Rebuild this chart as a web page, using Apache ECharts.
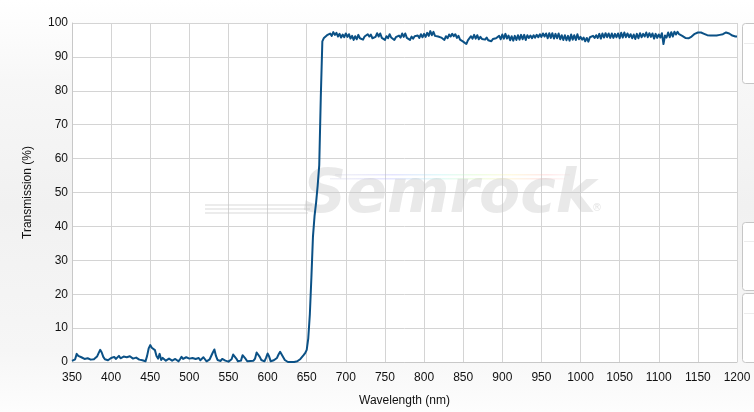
<!DOCTYPE html>
<html><head><meta charset="utf-8">
<script src="https://cdn.jsdelivr.net/npm/echarts@6/dist/echarts.min.js"></script>
<style>html,body{margin:0;padding:0;background:#fff;}#c{width:754px;height:412px;}</style>
</head><body><div id="c"></div>
<script>
// Wavelength sampling grid (nm)
const wavelengthStart = 350;
const wavelengthStep = 2;
// Transmission (%), one value per 2 nm from 350 to 1200 nm
const transmission = [
  // 350 - 648 (blocking band)
  0.3, 0.2, 0.8, 2.4, 1.8,
  2.1, 1.4, 1.3, 0.9, 0.8,
  1.1, 1.0, 0.7, 0.9, 0.8,
  1.3, 1.6, 2.6, 3.6, 2.8,
  1.5, 0.8, 0.6, 0.5, 0.9,
  1.2, 0.9, 1.5, 0.9, 1.3,
  1.8, 1.1, 1.0, 1.6, 2.0,
  1.4, 1.2, 1.7, 1.5, 1.0,
  0.8, 1.3, 1.2, 0.7, 0.6,
  0.5, 0.3, 0.2, 1.8, 4.0,
  5.0, 4.2, 4.5, 3.5, 1.8,
  1.0, 2.4, 0.6, 1.2, 1.5,
  0.4, 0.2, 1.0, 1.2, 0.4,
  0.2, 0.9, 1.2, 0.2, 0.8,
  1.5, 0.9, 1.0, 1.4, 1.8,
  1.0, 0.8, 1.2, 1.7, 0.9,
  1.1, 1.2, 0.5, 0.3, 1.4,
  1.0, 0.2, 0.2, 0.8, 1.2,
  2.8, 3.7, 1.8, 0.6, 0.2,
  0.3, 0.9, 1.2, 0.4, 0.1,
  0.1, 0.2, 0.8, 2.2, 2.5,
  1.0, 0.2, 0.1, 0.4, 2.0,
  2.5, 0.9, 0.2, 0.2, 0.3,
  0.5, 0.4, 1.0, 2.8, 3.2,
  1.5, 0.6, 0.2, 0.2, 1.2,
  2.5, 1.6, 0.2, 0.3, 0.5,
  0.7, 1.2, 2.2, 3.0, 2.7,
  1.4, 0.6, 0.1, 0.0, 0.0,
  0.0, 0.0, 0.0, 0.1, 0.2,
  0.4, 0.9, 1.4, 2.0, 2.6,
  // 650 - 678 (edge)
  3.6, 7, 14, 25, 37,
  43, 47, 52, 58, 78,
  94.6, 95.6, 96.0, 96.4, 96.2,
  // 680 - 1198 (pass band), 20 nm per row
  96.9, 96.2, 97.3, 96.5, 97.1, 96.0, 96.8, 95.7, 96.6, 95.8,
  96.9, 95.9, 96.7, 95.4, 96.2, 95.0, 96.1, 95.2, 96.5, 95.5,
  95.9, 95.1, 96.0, 95.7, 96.7, 96.0, 96.6, 95.5, 96.0, 95.9,
  97.0, 96.0, 96.9, 95.6, 96.0, 95.0, 96.1, 95.5, 96.7, 95.7,
  96.2, 95.0, 95.8, 95.3, 96.3, 95.7, 96.9, 95.9, 96.9, 95.6,
  96.1, 95.0, 96.0, 95.4, 96.1, 95.8, 96.3, 95.6, 96.7, 95.8,
  96.8, 95.9, 97.1, 96.2, 97.6, 96.4, 97.4, 96.2, 96.7, 96.0,
  96.3, 95.7, 96.0, 95.0, 96.1, 95.5, 96.6, 96.0, 96.8, 96.1,
  96.7, 95.6, 96.2, 95.1, 95.6, 94.5, 95.0, 93.8, 94.9, 94.5,
  96.1, 95.4, 96.5, 95.4, 96.4, 95.2, 95.9, 95.3, 95.8, 95.1,
  95.7, 94.9, 95.4, 94.6, 95.3, 94.8, 95.5, 95.0, 96.2, 95.2,
  96.6, 95.4, 96.8, 95.4, 96.3, 94.9, 96.1, 94.8, 96.2, 95.0,
  96.4, 95.1, 96.5, 95.2, 96.5, 95.0, 96.4, 95.6, 96.3, 95.5,
  96.4, 95.7, 96.5, 95.8, 96.7, 95.9, 96.9, 96.0, 96.9, 95.5,
  97.0, 95.6, 97.0, 95.4, 96.8, 95.5, 96.9, 95.2, 96.4, 95.0,
  96.4, 94.9, 96.2, 94.8, 96.6, 95.1, 96.4, 95.0, 96.7, 95.2,
  95.9, 95.1, 95.7, 94.6, 95.6, 94.5, 95.8, 95.3, 96.2, 95.6,
  96.4, 95.6, 96.8, 95.4, 96.9, 95.7, 97.0, 95.8, 96.9, 95.6,
  96.9, 95.6, 96.8, 95.8, 96.9, 95.5, 97.1, 95.7, 97.2, 95.8,
  96.9, 95.8, 96.7, 95.5, 96.6, 95.3, 96.8, 95.5, 97.0, 95.8,
  96.8, 96.0, 97.2, 95.8, 97.0, 95.9, 96.9, 95.4, 96.8, 95.6,
  96.6, 95.7, 97.0, 93.8, 96.3, 95.7, 97.2, 95.8, 97.3, 96.0,
  97.4, 96.6, 97.4, 96.7, 96.7, 96.2, 95.9, 95.6, 95.5, 95.5,
  95.7, 96.0, 96.4, 96.8, 97.0, 97.2, 97.3, 97.2, 97.0, 96.8,
  96.6, 96.4, 96.3, 96.3, 96.3, 96.3, 96.3, 96.3, 96.4, 96.5,
  96.6, 96.7, 96.9, 97.2, 97.3, 96.9, 96.6, 96.3, 96.1, 96.0,
  // 1200
  96.0
];
const xAxisTitle = 'Wavelength (nm)';
const yAxisTitle = 'Transmission (%)';
const watermark = 'Semrock';

const seriesData = transmission.map((v, i) => [wavelengthStart + wavelengthStep * i, v]);

const chart = echarts.init(document.getElementById('c'), null, {renderer: 'canvas'});
const font = '"Liberation Sans", Arial, sans-serif';
const rainbow = {type: 'linear', x: 0, y: 0, x2: 1, y2: 0, colorStops: [
  {offset: 0, color: 'rgba(200,200,220,0.25)'}, {offset: 0.25, color: 'rgba(170,170,255,0.3)'},
  {offset: 0.45, color: 'rgba(160,240,240,0.3)'}, {offset: 0.6, color: 'rgba(200,250,170,0.3)'},
  {offset: 0.75, color: 'rgba(255,240,160,0.3)'}, {offset: 0.9, color: 'rgba(255,180,180,0.3)'},
  {offset: 1, color: 'rgba(255,200,200,0.15)'}]};
chart.setOption({
  animation: false,
  backgroundColor: {
    type: 'linear', x: 0, y: 0, x2: 0, y2: 1,
    colorStops: [
      {offset: 0, color: '#ffffff'},
      {offset: 0.2, color: '#f7f7f7'},
      {offset: 0.5, color: '#f1f1f1'},
      {offset: 0.85, color: '#f6f6f6'},
      {offset: 1, color: '#fdfdfd'}
    ]
  },
  grid: {left: 72, right: 17, top: 23, bottom: 50, show: true, backgroundColor: '#ffffff', borderWidth: 0},
  xAxis: {
    type: 'value', min: 350, max: 1200, interval: 50,
    name: xAxisTitle, nameLocation: 'middle', nameGap: 33,
    nameTextStyle: {color: '#111', fontSize: 12, fontFamily: font},
    axisLine: {show: true, lineStyle: {color: '#c8c8c8', width: 1}},
    axisTick: {show: false},
    axisLabel: {color: '#111', fontSize: 12, fontFamily: font, margin: 10, formatter: v => String(v)},
    splitLine: {show: true, lineStyle: {color: '#d4d4d4', width: 1}}
  },
  yAxis: {
    type: 'value', min: 0, max: 100, interval: 10,
    name: yAxisTitle, nameLocation: 'middle', nameGap: 38, nameRotate: 90,
    nameTextStyle: {color: '#111', fontSize: 12, fontFamily: font},
    axisLine: {show: true, lineStyle: {color: '#c8c8c8', width: 1}},
    axisTick: {show: false},
    axisLabel: {color: '#111', fontSize: 12, fontFamily: font, margin: 4},
    splitLine: {show: true, lineStyle: {color: '#d4d4d4', width: 1}}
  },
  graphic: [
    {type: 'line', z: 1, silent: true, shape: {x1: 205, y1: 205, x2: 312, y2: 205}, style: {stroke: 'rgba(200,200,200,0.45)', lineWidth: 1.5}},
    {type: 'line', z: 1, silent: true, shape: {x1: 205, y1: 209, x2: 310, y2: 209}, style: {stroke: 'rgba(200,200,200,0.45)', lineWidth: 1.5}},
    {type: 'line', z: 1, silent: true, shape: {x1: 205, y1: 213, x2: 308, y2: 213}, style: {stroke: 'rgba(200,200,200,0.45)', lineWidth: 1.5}},
    {type: 'rect', z: 1, silent: true, shape: {x: 335, y: 174, width: 235, height: 1.5}, style: {fill: rainbow}},
    {type: 'rect', z: 1, silent: true, shape: {x: 330, y: 178, width: 235, height: 1.5}, style: {fill: rainbow}},
    {type: 'text', z: 1, silent: true, left: 303, top: 166,
      style: {text: watermark, fill: 'rgba(200,200,200,0.4)', font: 'italic bold 60px "DejaVu Sans", sans-serif'}},
    {type: 'text', z: 1, silent: true, left: 592, top: 203,
      style: {text: '®', fill: 'rgba(200,200,200,0.5)', font: '10px "DejaVu Sans", sans-serif'}},
    {type: 'rect', z: 5, silent: true, shape: {x: 742.5, y: 23.5, width: 20, height: 60, r: 3}, style: {fill: '#ffffff', stroke: '#c6c6c6', lineWidth: 1}},
    {type: 'line', z: 6, silent: true, shape: {x1: 744, y1: 43.5, x2: 754, y2: 43.5}, style: {stroke: '#ececec', lineWidth: 1}},
    {type: 'rect', z: 5, silent: true, shape: {x: 742.5, y: 222.5, width: 20, height: 68, r: 3}, style: {fill: '#ffffff', stroke: '#c6c6c6', lineWidth: 1}},
    {type: 'line', z: 6, silent: true, shape: {x1: 744, y1: 241.5, x2: 754, y2: 241.5}, style: {stroke: '#ececec', lineWidth: 1}},
    {type: 'rect', z: 5, silent: true, shape: {x: 742.5, y: 293.5, width: 20, height: 69, r: 3}, style: {fill: '#ffffff', stroke: '#c6c6c6', lineWidth: 1}},
    {type: 'line', z: 6, silent: true, shape: {x1: 744, y1: 313.5, x2: 754, y2: 313.5}, style: {stroke: '#ececec', lineWidth: 1}}
  ],
  series: [{
    type: 'line', data: seriesData, showSymbol: false, symbol: 'none',
    z: 3,
    lineStyle: {color: '#0b5186', width: 2, join: 'round'}
  }]
});
</script>
</body></html>
